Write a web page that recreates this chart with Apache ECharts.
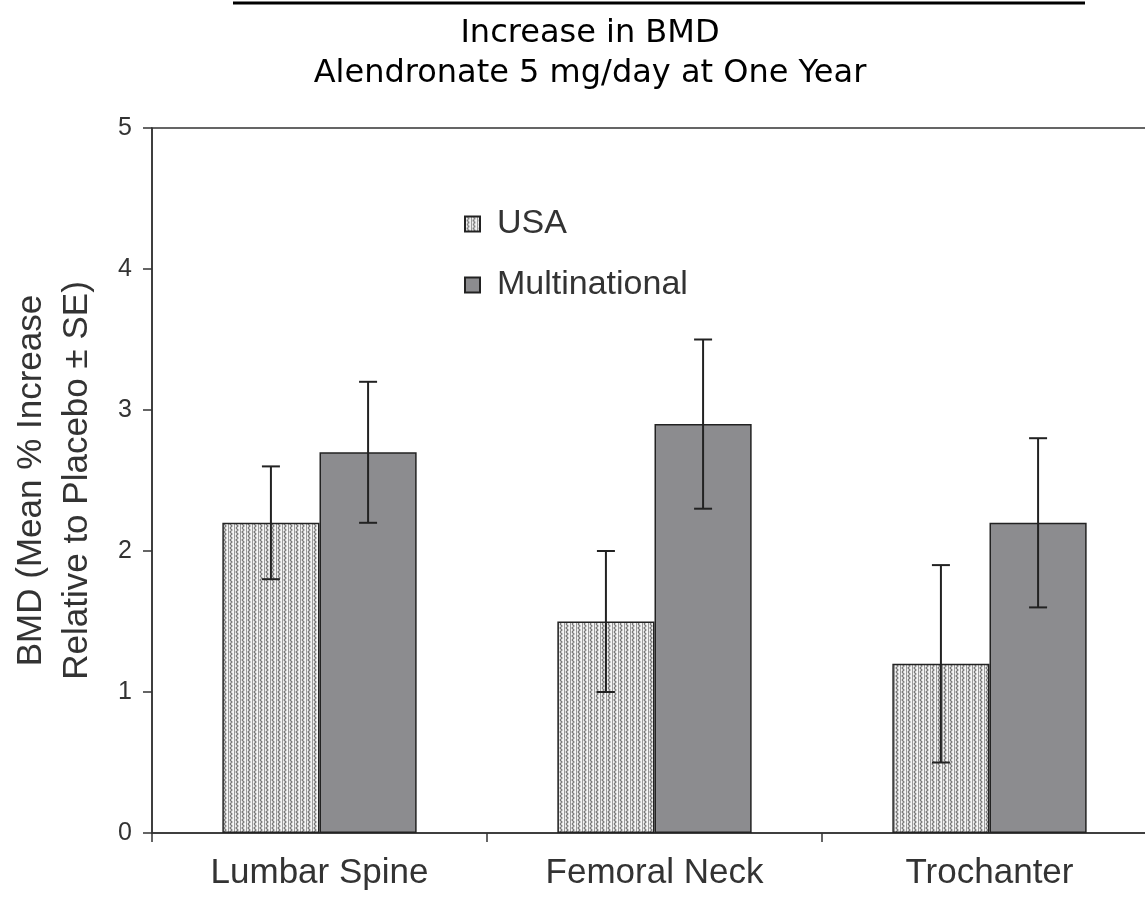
<!DOCTYPE html>
<html>
<head>
<meta charset="utf-8">
<script src="https://cdn.jsdelivr.net/npm/echarts@6/dist/echarts.min.js"></script>
<style>
html,body{margin:0;padding:0;background:#fff;overflow:hidden;}
#chart{width:1145px;height:901px;}
</style>
</head>
<body>
<div id="chart"></div>
<script>
var categories = ['Lumbar Spine', 'Femoral Neck', 'Trochanter'];
var usaMean = [2.2, 1.5, 1.2];
var usaSE = [0.4, 0.5, 0.7];
var multiMean = [2.7, 2.9, 2.2];
var multiSE = [0.5, 0.6, 0.6];
var yTicks = [0, 1, 2, 3, 4, 5];
var titleLines = ['Increase in BMD', 'Alendronate 5 mg/day at One Year'];
var yName = 'BMD (Mean % Increase\nRelative to Placebo \u00b1 SE)';

// hatch pattern for USA bars
var pc = document.createElement('canvas');
pc.width = 6; pc.height = 8;
var g = pc.getContext('2d');
g.fillStyle = '#f4f4f4';
g.fillRect(0, 0, 6, 8);
g.strokeStyle = '#7a7a7a';
g.lineWidth = 1.2;
g.beginPath();
g.moveTo(2, 0); g.lineTo(4, 2); g.lineTo(2, 4); g.lineTo(4, 6); g.lineTo(2, 8);
g.stroke();
g.fillStyle = '#999';
g.fillRect(0, 0, 1, 8);
var pattern = { image: pc, repeat: 'repeat' };

var gapRatio = 0.42;
function errData(mean, se) {
  return mean.map(function (m, i) { return [i, m - se[i], m + se[i]]; });
}
function errSeries(name, mean, se, side) {
  return {
    type: 'custom',
    name: name + ' SE',
    data: errData(mean, se),
    encode: { x: 0, y: [1, 2] },
    z: 5,
    renderItem: function (params, api) {
      var band = api.size([1, 0])[0];
      var off = side * band * (1 - gapRatio) / 4;
      var lo = api.coord([api.value(0), api.value(1)]);
      var hi = api.coord([api.value(0), api.value(2)]);
      var x = lo[0] + off;
      var cw = 9;
      var st = { stroke: '#222', lineWidth: 2, fill: null };
      return {
        type: 'group',
        children: [
          { type: 'line', shape: { x1: x, y1: lo[1], x2: x, y2: hi[1] }, style: st },
          { type: 'line', shape: { x1: x - cw, y1: lo[1], x2: x + cw, y2: lo[1] }, style: st },
          { type: 'line', shape: { x1: x - cw, y1: hi[1], x2: x + cw, y2: hi[1] }, style: st }
        ]
      };
    }
  };
}

var chart = echarts.init(document.getElementById('chart'), null, { renderer: 'canvas' });
chart.setOption({
  backgroundColor: '#fff',
  animation: false,
  title: {
    text: titleLines.join('\n'),
    left: 585,
    textAlign: 'center',
    top: 9,
    textStyle: { fontFamily: 'DejaVu Sans', fontWeight: 'normal', fontSize: 32, lineHeight: 40, color: '#000', align: 'center' }
  },
  graphic: [
    { type: 'line', shape: { x1: 233, y1: 3, x2: 1085, y2: 3 }, style: { stroke: '#000', lineWidth: 3 } }
  ],
  legend: {
    orient: 'vertical',
    left: 459,
    top: 202,
    icon: 'rect',
    itemWidth: 15,
    itemHeight: 15,
    itemGap: 27,
    data: ['USA', 'Multinational'],
    textStyle: { fontFamily: 'Liberation Sans', fontSize: 34, color: '#333', padding: [0, 0, 0, 12] }
  },
  grid: {
    left: 152, right: -12, top: 128, bottom: 68,
    outerBoundsMode: 'none',
    containLabel: false,
    show: true, borderColor: '#333', borderWidth: 1.5, backgroundColor: 'transparent'
  },
  xAxis: {
    type: 'category',
    data: categories,
    axisLine: { lineStyle: { color: '#333', width: 1.5 } },
    axisTick: { show: true, length: 9, inside: false, lineStyle: { color: '#333', width: 1.5 } },
    axisLabel: { fontFamily: 'Liberation Sans', fontSize: 35, color: '#333', margin: 23 }
  },
  yAxis: {
    type: 'value',
    min: yTicks[0],
    max: yTicks[yTicks.length - 1],
    interval: 1,
    name: yName,
    nameLocation: 'middle',
    nameGap: 52,
    nameTextStyle: { fontFamily: 'Liberation Sans', fontSize: 35, lineHeight: 46, color: '#333' },
    axisLine: { show: true, lineStyle: { color: '#333', width: 1.5 } },
    axisTick: { show: true, length: 9, lineStyle: { color: '#333', width: 1.5 } },
    splitLine: { show: false },
    axisLabel: { fontFamily: 'Liberation Sans', fontSize: 25, color: '#333', margin: 20 }
  },
  series: [
    {
      type: 'bar', name: 'USA', data: usaMean,
      barGap: '0%', barCategoryGap: (gapRatio * 100) + '%',
      itemStyle: { color: pattern, borderColor: '#222', borderWidth: 1.5 }
    },
    {
      type: 'bar', name: 'Multinational', data: multiMean,
      barGap: '0%', barCategoryGap: (gapRatio * 100) + '%',
      itemStyle: { color: '#8c8c8f', borderColor: '#222', borderWidth: 1.5 }
    },
    errSeries('USA', usaMean, usaSE, -1),
    errSeries('Multinational', multiMean, multiSE, 1)
  ]
});
</script>
</body>
</html>
